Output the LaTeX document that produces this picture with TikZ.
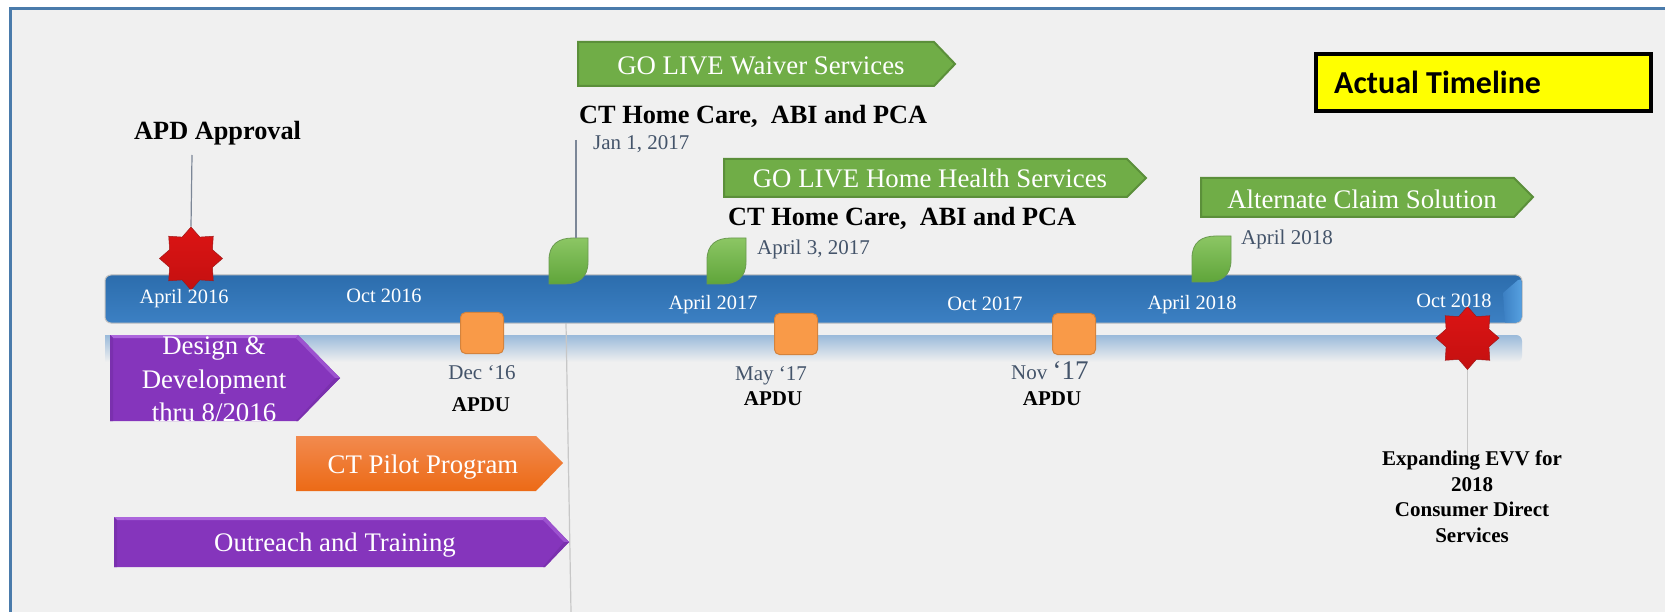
\documentclass[tikz,border=0pt]{standalone}
\usepackage{fontspec}
\setmainfont{Liberation Serif}
\newfontfamily\calib{Carlito}
\usetikzlibrary{shapes.geometric}
\definecolor{bgc}{HTML}{F0F0F0}
\definecolor{framec}{HTML}{4A7BAB}
\definecolor{datec}{HTML}{44546A}
\definecolor{barT}{HTML}{2C6DAD}
\definecolor{barB}{HTML}{3C80C3}
\definecolor{barC}{HTML}{56A0E0}
\definecolor{grn}{HTML}{70AD47}
\definecolor{grnD}{HTML}{5B8F3A}
\definecolor{leafT}{HTML}{8CC664}
\definecolor{leafB}{HTML}{5FA53A}
\definecolor{leafE}{HTML}{6A9A50}
\definecolor{purM}{HTML}{8535BC}
\definecolor{purL}{HTML}{AC66DC}
\definecolor{purD}{HTML}{7A30AE}
\definecolor{oraT}{HTML}{F28A4E}
\definecolor{oraB}{HTML}{EC6A16}
\definecolor{starT}{HTML}{DC1414}
\definecolor{starB}{HTML}{C41010}
\definecolor{starE}{HTML}{A01818}
\definecolor{sq}{HTML}{F99A48}
\definecolor{legendy}{HTML}{FFFF00}
\tikzset{
  px/.style={x=1pt,y=-1pt},
  date/.style={text=datec,font=\fontsize{21}{23}\selectfont,inner sep=0,anchor=base},
  bartext/.style={text=white,font=\fontsize{20.4}{22}\selectfont,inner sep=0,anchor=base},
  apdu/.style={text=black,font=\fontsize{21}{23}\selectfont\bfseries,inner sep=0,anchor=base},
  headtext/.style={text=black,font=\fontsize{26.3}{28}\selectfont\bfseries,inner sep=0,anchor=base west},
  arrowtext/.style={text=white,font=\fontsize{26.8}{28}\selectfont,inner sep=0,anchor=base,align=center},
  greenarrow/.style={fill=grn,draw=grnD,line width=2pt,line join=miter},
  orangearrow/.style={top color=oraT,bottom color=oraB,draw=none},
  redstar/.style={star,star points=8,star point ratio=1.36,minimum size=63pt,inner sep=0,
     top color=starT,bottom color=starB,draw=starE,line width=.5pt},
  apdusq/.style={rectangle,rounded corners=5pt,minimum width=43pt,minimum height=41pt,inner sep=0,
     fill=sq,draw=sq!85!black,line width=1pt},
  leafshape/.style={top color=leafT,bottom color=leafB,draw=leafE,line width=.8pt},
  stem/.style={draw=datec!70!white,line width=1.2pt},
  stemlight/.style={draw=black!22,line width=1.2pt},
}
\newcommand{\leafat}[3]{%
  \path[leafshape] (#1,#2+46) -- (#1,#2+22) .. controls (#1,#2+6) and (#1+10,#2) .. (#1+24,#2) -- (#1+39,#2)
    -- (#1+39,#2+24) .. controls (#1+39,#2+40) and (#1+29,#2+46) .. (#1+15,#2+46) -- cycle;
  \coordinate (#3) at (#1+30,#2);
}
% x1 left, x2 shoulder, x3 tip, y1 top, y2 bottom, ym tip height
\newcommand{\purplearrow}[6]{%
  \fill[purM] (#1,#4) -- (#2,#4) -- (#3,#6) -- (#2,#5) -- (#1,#5) -- cycle;
  \fill[purL] (#1,#4) -- (#2,#4) -- (#2-2,#4+3) -- (#1+3,#4+3) -- cycle;
  \fill[purD] (#1,#4) -- (#1+3,#4+3) -- (#1+3,#5) -- (#1,#5) -- cycle;
  \fill[purL!60!purM] (#2,#4) -- (#3,#6) -- (#3-5,#6) -- (#2-2,#4+3) -- cycle;
  \fill[purD] (#3,#6) -- (#2,#5) -- (#2-2,#5) -- (#3-5,#6) -- cycle;
}
\begin{document}
\begin{tikzpicture}[px]
\useasboundingbox (0,0) rectangle (1665,612);
\fill[white] (0,0) rectangle (1665,612);
\fill[bgc] (10.3,8.7) rectangle (1665,612);
\draw[framec,line width=2.7pt] (10.3,612) -- (10.3,8.7) -- (1665,8.7);

% reflection and bar
\path[top color=barB!48!bgc,bottom color=bgc,draw=none,rounded corners=6pt] (105,335) -- (1522,335) -- (1522,362) [sharp corners] -- (105,362) -- cycle;
\coordinate (pilotfoot) at (571,612);
\coordinate (pilottop) at (566,323);
\draw[stemlight] (pilottop) -- (pilotfoot);
\path[top color=barT,bottom color=barB,rounded corners=6pt,draw=black!25,line width=1pt] (105,275) rectangle (1522,323);
\path[left color=barB,right color=barC,draw=none,rounded corners=5pt] (1521.5,277) [sharp corners] -- (1503,293) -- (1505,322.5) [rounded corners=5pt] -- (1521.5,322.5) -- cycle;

% arrows
\purplearrow{110}{298}{340}{335}{421}{378}
\node[arrowtext] (design) at (214,354) {Design \&};
\node[arrowtext] (develop) at (214,388) {Development};
\node[arrowtext] (thru) at (214,421) {thru 8/2016};
\path[orangearrow] (296,436) -- (536,436) -- (563,463) -- (536,491) -- (296,491) -- cycle;
\node[arrowtext] (pilot) at (423,473) {CT Pilot Program};
\purplearrow{114}{545}{569}{517}{567}{542}
\node[arrowtext] (outreach) at (335,551) {Outreach and Training};
\path[greenarrow] (578,42) -- (934,42) -- (955,64) -- (934,86) -- (578,86) -- cycle;
\node[arrowtext] (waiver) at (761,75) {GO LIVE Waiver Services};
\path[greenarrow] (724,159) -- (1127,159) -- (1146,178) -- (1127,197) -- (724,197) -- cycle;
\node[arrowtext] (health) at (930,187.5) {GO LIVE Home Health Services};
\path[greenarrow] (1201,178) -- (1514,178) -- (1533,197) -- (1514,217) -- (1201,217) -- cycle;
\node[arrowtext] (alt) at (1362,209) {Alternate Claim Solution};

% head texts
\node[headtext] (apd) at (134,140) {APD Approval};
\node[headtext] (ct1) at (579,124) {CT Home Care,\ \ ABI and PCA};
\node[headtext] (ct2) at (728,226) {CT Home Care,\ \ ABI and PCA};

% stems and stars
\coordinate (apdstem) at (192,155);
\node[redstar] (star1) at (191,258.5) {};
\draw[stem] (apdstem) -- (star1.north);
\coordinate (janstem) at (576,140);
\leafat{549}{238}{leafA}
\draw[stem] (janstem) -- (leafA -| janstem);
\leafat{707}{238}{leafB}
\leafat{1192}{236}{leafC}
\node[redstar] (star2) at (1467.5,338) {};
\coordinate (evvstem) at (1467.5,458);
\draw[stemlight] (star2.south) -- (evvstem);

% squares
\node[apdusq] (sq1) at (482,333) {};
\node[apdusq] (sq2) at (796,334) {};
\node[apdusq] (sq3) at (1074,334) {};

% bar labels
\node[bartext] at (184,304) {April 2016};
\node[bartext] at (384,302) {Oct 2016};
\node[bartext] at (713,309) {April 2017};
\node[bartext] at (985,310) {Oct 2017};
\node[bartext] at (1192,309) {April 2018};
\node[bartext] at (1454,308) {Oct 2018};

% dates
\node[date,anchor=base west] at (593,150) {Jan 1, 2017};
\node[date,anchor=base west] at (757,255) {April 3, 2017};
\node[date,anchor=base west] at (1241,245) {April 2018};
\node[date] at (482,379) {Dec ‘16};
\node[date] at (771,380) {May ‘17};
\node[date,anchor=base west] at (1011,379) {Nov \fontsize{27}{28}\selectfont‘17};

\node[apdu] at (481,411) {APDU};
\node[apdu] at (773,405) {APDU};
\node[apdu] at (1052,405) {APDU};

\node[text=black,font=\fontsize{21}{25.5}\selectfont\bfseries,align=center,inner sep=0,anchor=north] (evv) at (1472,451)
  {Expanding EVV for\\2018\\Consumer Direct\\Services};

% legend
\node[draw=black,line width=4pt,fill=legendy,rectangle,minimum width=335.5pt,minimum height=57.5pt,inner sep=0,anchor=north west] (legend) at (1313.5,52) {};
\node[font=\calib\bfseries\fontsize{32}{34}\selectfont,inner sep=0,anchor=base west] (legendtxt) at (1334,94) {Actual Timeline};
\end{tikzpicture}
\end{document}
